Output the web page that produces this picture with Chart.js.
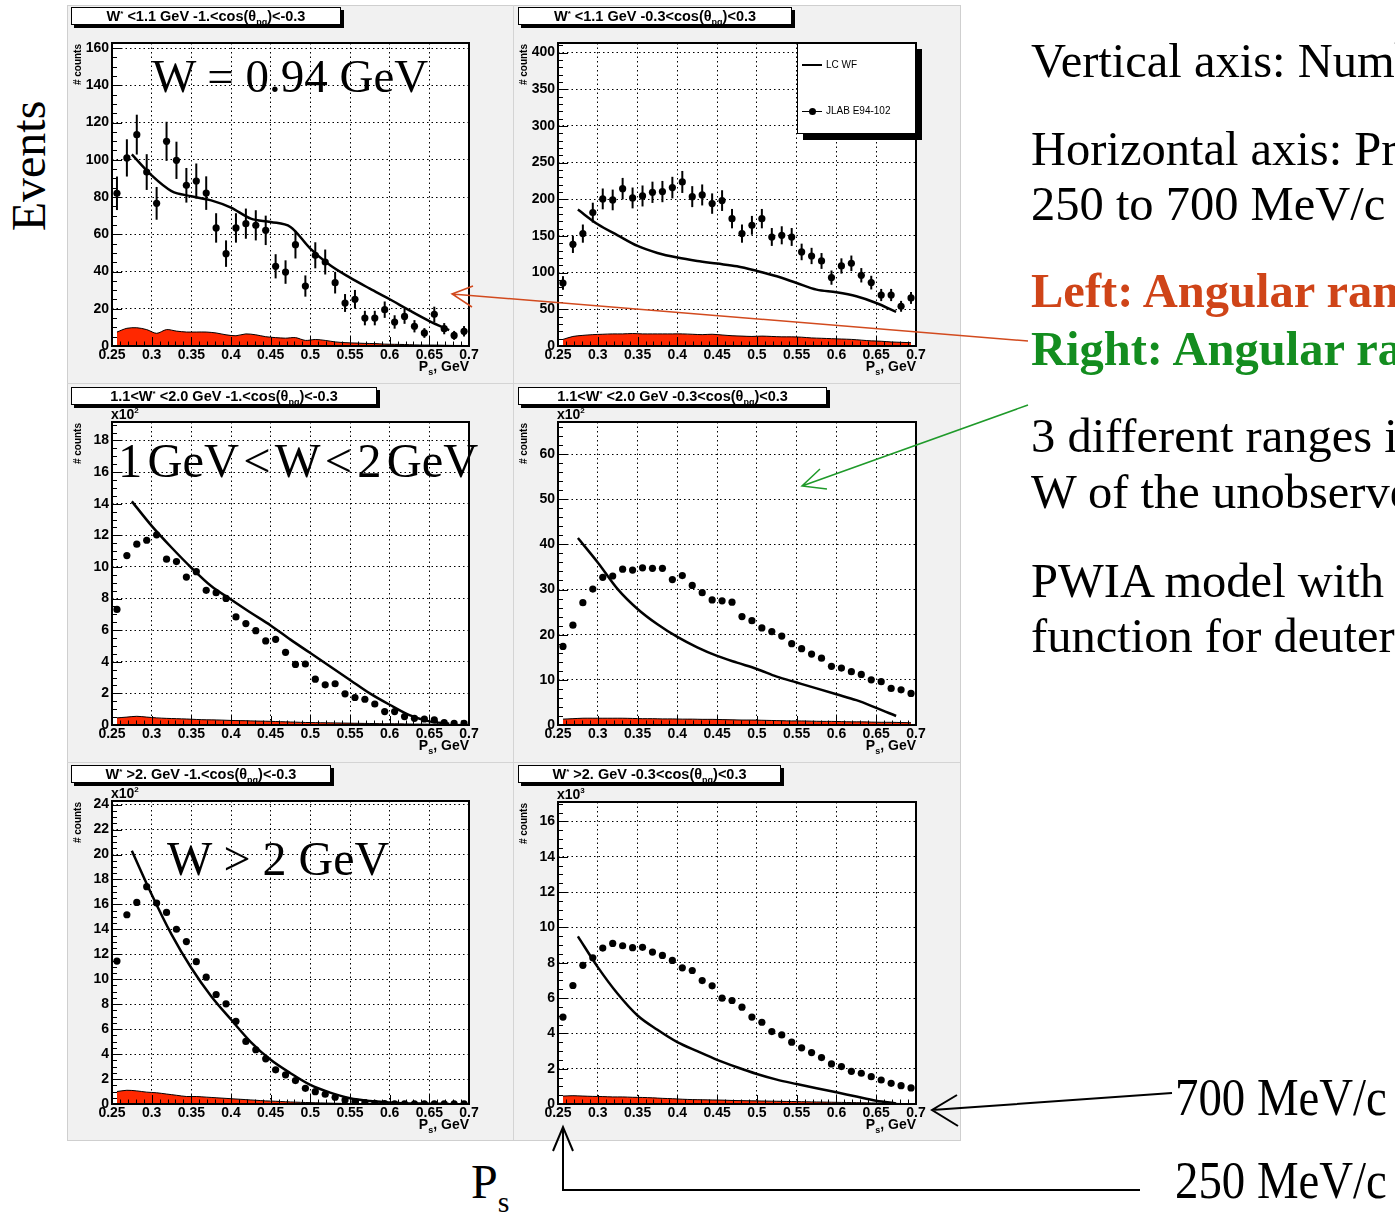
<!DOCTYPE html>
<html>
<head>
<meta charset="utf-8">
<script src="https://cdn.jsdelivr.net/npm/chart.js@4.4.1/dist/chart.umd.min.js"></script>
<style>
body { margin:0; width:1395px; height:1212px; overflow:hidden; background:#fff; position:relative; font-family:'Liberation Sans', Arial, sans-serif; }
.abs { position:absolute; }
#pad { left:67px; top:5px; width:892px; height:1134px; background:#f1f1f1; border:1px solid #cfcfcf; }
.sep { position:absolute; background:#d4d4d4; }
.ttl { position:absolute; box-sizing:border-box; height:18px; border:1px solid #000; background:#fff; box-shadow:3px 3px 0 #000;
       font:bold 14.5px 'Liberation Sans', Arial, sans-serif; text-align:center; line-height:16px; white-space:nowrap; }
.ttl sub { font-size:9px; vertical-align:-4px; line-height:0; }
.ttl sup { font-size:8px; vertical-align:5px; line-height:0; }
.serif { position:absolute; font-family:'Liberation Serif','Times New Roman',serif; white-space:nowrap; line-height:1; color:#000; }
.side { left:1031px; font-size:48.5px; }
#legend { left:797px; top:43px; width:119px; height:91px; box-sizing:border-box; background:#fff; border:1px solid #000; box-shadow:6px 6px 0 #000;
          font:10px 'Liberation Sans', Arial, sans-serif; }
</style>
</head>
<body>
<div id="pad" class="abs"></div>
<div class="sep" style="left:513px;top:5px;width:1px;height:1135px"></div>
<div class="sep" style="left:67px;top:383px;width:893px;height:1px"></div>
<div class="sep" style="left:67px;top:762px;width:893px;height:1px"></div>

<div id="charts"></div>

<div class="ttl" style="left:71px;top:7px;width:270px">W<sup>*</sup> &lt;1.1 GeV -1.&lt;cos(θ<sub>pq</sub>)&lt;-0.3</div>
<div class="ttl" style="left:518px;top:7px;width:274px">W<sup>*</sup> &lt;1.1 GeV -0.3&lt;cos(θ<sub>pq</sub>)&lt;0.3</div>
<div class="ttl" style="left:71px;top:387px;width:306px">1.1&lt;W<sup>*</sup> &lt;2.0 GeV -1.&lt;cos(θ<sub>pq</sub>)&lt;-0.3</div>
<div class="ttl" style="left:518px;top:387px;width:309px">1.1&lt;W<sup>*</sup> &lt;2.0 GeV -0.3&lt;cos(θ<sub>pq</sub>)&lt;0.3</div>
<div class="ttl" style="left:71px;top:765px;width:260px">W<sup>*</sup> &gt;2. GeV -1.&lt;cos(θ<sub>pq</sub>)&lt;-0.3</div>
<div class="ttl" style="left:518px;top:765px;width:263px">W<sup>*</sup> &gt;2. GeV -0.3&lt;cos(θ<sub>pq</sub>)&lt;0.3</div>

<div id="legend" class="abs">
  <div class="abs" style="left:4px;top:20px;width:20px;height:2px;background:#000"></div>
  <div class="abs" style="left:28px;top:15px">LC WF</div>
  <div class="abs" style="left:4px;top:67px;width:20px;height:1px;background:#000"></div>
  <div class="abs" style="left:11px;top:64px;width:7px;height:7px;border-radius:50%;background:#000"></div>
  <div class="abs" style="left:28px;top:61px">JLAB E94-102</div>
</div>

<div class="serif" style="left:152px;top:53px;font-size:47px">W = 0.94 GeV</div>
<div class="serif" style="left:118px;top:437px;font-size:48.5px;word-spacing:-7px">1 GeV &lt; W &lt; 2 GeV</div>
<div class="serif" style="left:167px;top:835px;font-size:48px">W &gt; 2 GeV</div>

<div class="serif" style="left:29px;top:166px;font-size:48px;transform:translate(-50%,-50%) rotate(-90deg)">Events</div>

<div class="serif side" style="top:37px">Vertical axis: Number of events</div>
<div class="serif side" style="top:125px">Horizontal axis: Proton momentum</div>
<div class="serif side" style="top:180px">250 to 700 MeV/c</div>
<div class="serif side" style="top:267px;font-weight:bold;color:#cf4418">Left: Angular range</div>
<div class="serif side" style="top:325px;font-weight:bold;color:#138d1f">Right: Angular range</div>
<div class="serif side" style="top:412px">3 different ranges in</div>
<div class="serif side" style="top:468px">W of the unobserved</div>
<div class="serif side" style="top:557px">PWIA model with</div>
<div class="serif side" style="top:612px">function for deuterium</div>

<div class="serif" style="left:471px;top:1158px;font-size:48px">P<span style="font-size:30px;vertical-align:-14px">s</span></div>
<div class="serif" style="left:1175px;top:1072px;font-size:52px;transform:scaleX(0.9);transform-origin:left top">700 MeV/c</div>
<div class="serif" style="left:1175px;top:1155px;font-size:52px;transform:scaleX(0.9);transform-origin:left top">250 MeV/c</div>

<svg class="abs" style="left:0;top:0" width="1395" height="1212">
  <g fill="none">
    <path d="M1028,341 L452,294 M473,286 L452,294 L472,307" stroke="#d24a1e" stroke-width="1.5"/>
    <path d="M1028,405 L802,486 M820,469 L802,486 L827,489" stroke="#1f9a2a" stroke-width="1.5"/>
    <path d="M1172,1093 L932,1110 M957,1095 L932,1110 L958,1126" stroke="#000" stroke-width="2"/>
    <path d="M1140,1190 L563,1190 L563,1127 M553,1151 L563,1127 L573,1151" stroke="#000" stroke-width="2"/>
  </g>
</svg>

<script>
// proton spectator momentum bins (GeV), bin centres
const psBins = [0.25625, 0.26875, 0.28125, 0.29375, 0.30625, 0.31875, 0.33125, 0.34375, 0.35625, 0.36875,
                0.38125, 0.39375, 0.40625, 0.41875, 0.43125, 0.44375, 0.45625, 0.46875, 0.48125, 0.49375,
                0.50625, 0.51875, 0.53125, 0.54375, 0.55625, 0.56875, 0.58125, 0.59375, 0.60625, 0.61875,
                0.63125, 0.64375, 0.65625, 0.66875, 0.68125, 0.69375];
// points where the LC WF model curve was read
const modelPs = [0.275, 0.3, 0.325, 0.35, 0.375, 0.4, 0.425, 0.45, 0.475, 0.5, 0.525, 0.55, 0.575, 0.6, 0.625, 0.65, 0.675];
const psTicks = [0.25, 0.3, 0.35, 0.4, 0.45, 0.5, 0.55, 0.6, 0.65, 0.7];

// W* < 1.1 GeV, -1 < cos < -0.3
const countsW1Back = [82, 101, 113.5, 93.4, 76.6, 109.9, 99.7, 86.3, 88.6, 82.1, 63.4, 49.6, 63.4, 65.7, 64.8, 62.1, 42.8, 39.7,
                      54.4, 32.2, 48.7, 45.1, 34, 23.1, 25.1, 15, 15, 19.5, 12.9, 15.9, 10.6, 7, 17, 9.3, 5.7, 7.9];
const errW1Back = [9, 10, 10.7, 9.6, 8.8, 10.5, 10, 9.3, 9.4, 9, 7.9, 7.1, 7.9, 8.1, 8.1, 7.9, 6.5, 6.3,
                   7.4, 5.7, 7, 6.7, 5.8, 4.8, 5, 3.9, 3.9, 4.4, 3.6, 4, 3.3, 2.6, 4.1, 3, 2.4, 2.8];
const modelW1Back = [102.9, 91.6, 83.2, 80.4, 78.2, 74.3, 68.4, 66.6, 63.9, 52.3, 43.3, 36.7, 30.8, 25.1, 19.1, 13.4, 8.5];
const bgW1Back = [7.5, 9.5, 9.8, 8.8, 6.8, 8.8, 8, 7.5, 7.5, 7.5, 7, 6, 5.5, 6.5, 6, 5, 4.5, 4.2,
                  4.5, 3, 3.5, 3, 2.2, 1.8, 1.6, 1.4, 1.3, 1, 0.9, 0.8, 0.6, 0.5, 0.5, 0.4, 0.3, 0.3];
const ticksW1Back = [0, 20, 40, 60, 80, 100, 120, 140, 160];

// W* < 1.1 GeV, -0.3 < cos < 0.3
const countsW1Perp = [85.9, 138.6, 153.2, 181.8, 200.5, 199.1, 214.5, 201.8, 204.5, 209.5, 210.5, 215.9, 223.6, 203.6, 205.9, 194.1, 198.2, 173.6,
                      153.2, 164.5, 173.6, 148.6, 150.9, 148.6, 128.2, 122.7, 115.9, 93.2, 109.1, 112.7, 96.4, 86.4, 69.5, 69.5, 54.1, 65.5];
const errW1Perp = [9.3, 11.8, 12.4, 13.5, 14.2, 14.1, 14.6, 14.2, 14.3, 14.5, 14.5, 14.7, 15, 14.3, 14.3, 13.9, 14.1, 13.2,
                   12.4, 12.8, 13.2, 12.2, 12.3, 12.2, 11.3, 11.1, 10.8, 9.7, 10.4, 10.6, 9.8, 9.3, 8.3, 8.3, 7.4, 8.1];
const modelW1Perp = [185.9, 165.9, 150.9, 136.4, 126.8, 120.5, 115.9, 112.3, 108.6, 102.3, 95, 85.9, 76.8, 73.2, 67.7, 58.6, 46.4];
const bgW1Perp = [9, 13, 14.5, 15.5, 16, 16.5, 16.5, 17, 16.5, 16.5, 16.5, 16.5, 16.5, 16, 15.5, 16, 15, 14,
                  13.5, 13, 13.5, 13, 12.5, 12.5, 12, 11, 10.5, 10, 9.5, 9, 8, 7, 6.5, 5.5, 5, 4.5];
const ticksW1Perp = [0, 50, 100, 150, 200, 250, 300, 350, 400];

// 1.1 < W* < 2.0 GeV (x10^2), -1 < cos < -0.3
const countsW2Back = [7.31, 10.72, 11.44, 11.69, 12.03, 10.49, 10.34, 9.36, 9.7, 8.52, 8.37, 8.01, 6.84, 6.42, 5.97, 5.32, 5.42, 4.6,
                      3.83, 3.86, 2.9, 2.54, 2.61, 1.97, 1.74, 1.63, 1.33, 0.85, 0.85, 0.53, 0.42, 0.38, 0.32, 0.15, 0.1, 0.1];
const modelW2Back = [14.15, 12.6, 11.23, 9.95, 8.79, 7.94, 7.1, 6.3, 5.4, 4.55, 3.7, 2.85, 2, 1.28, 0.62, 0.23, 0.08];
const bgW2Back = [0.45, 0.5, 0.55, 0.5, 0.45, 0.42, 0.4, 0.38, 0.35, 0.33, 0.32, 0.3, 0.28, 0.27, 0.25, 0.24, 0.22, 0.2,
                  0.18, 0.16, 0.15, 0.14, 0.13, 0.12, 0.11, 0.1, 0.09, 0.08, 0.08, 0.07, 0.06, 0.06, 0.05, 0.05, 0.04, 0.04];
const ticksW2Back = [0, 2, 4, 6, 8, 10, 12, 14, 16, 18];

// 1.1 < W* < 2.0 GeV (x10^2), -0.3 < cos < 0.3
const countsW2Perp = [17.4, 22.1, 27.1, 30.1, 32.7, 33, 34.5, 34.3, 34.8, 34.7, 34.7, 32.2, 33.1, 30.9, 29.3, 27.7, 27.5, 27.2,
                      24, 23.1, 21.5, 20.7, 19.7, 18, 16.9, 15.7, 14.8, 13, 12.6, 11.8, 11.2, 10, 9.6, 8.1, 7.8, 7];
const modelW2Perp = [41.4, 36, 30.1, 25.7, 22.3, 19.5, 17.2, 15.3, 13.8, 12.4, 10.7, 9.4, 8.1, 6.8, 5.5, 3.8, 2];
const bgW2Perp = [1.3, 1.4, 1.5, 1.5, 1.5, 1.5, 1.5, 1.45, 1.4, 1.4, 1.35, 1.35, 1.3, 1.3, 1.25, 1.25, 1.2, 1.15,
                  1.1, 1.1, 1.05, 1, 0.95, 0.9, 0.9, 0.85, 0.8, 0.8, 0.75, 0.7, 0.7, 0.65, 0.6, 0.6, 0.55, 0.5];
const ticksW2Perp = [0, 10, 20, 30, 40, 50, 60];

// W* > 2 GeV (x10^2), -1 < cos < -0.3
const countsW3Back = [11.46, 15.17, 16.16, 17.42, 16.11, 15.36, 14.01, 13.02, 11.41, 10.17, 8.78, 8.03, 6.63, 5.02, 4.35, 3.62, 2.74, 2.34,
                      1.88, 1.26, 0.99, 0.78, 0.54, 0.32, 0.19, 0.11, 0.05, 0.03, 0.02, 0.02, 0.02, 0.02, 0.02, 0.02, 0.02, 0.02];
const modelW3Back = [20.3, 16.8, 13.6, 10.9, 8.64, 6.77, 4.97, 3.54, 2.47, 1.53, 0.91, 0.46, 0.24, 0.13, 0.05, 0.03, 0.01];
const bgW3Back = [1, 1.1, 1.05, 0.95, 0.9, 0.8, 0.7, 0.6, 0.6, 0.55, 0.5, 0.45, 0.4, 0.35, 0.3, 0.25, 0.22, 0.18,
                  0.15, 0.12, 0.1, 0.08, 0.06, 0.05, 0.04, 0.03, 0.02, 0.02, 0.01, 0.01, 0.01, 0, 0, 0, 0, 0];
const ticksW3Back = [0, 2, 4, 6, 8, 10, 12, 14, 16, 18, 20, 22, 24];

// W* > 2 GeV (x10^3), -0.3 < cos < 0.3
const countsW3Perp = [4.92, 6.71, 7.85, 8.28, 8.83, 9.09, 8.96, 8.85, 8.87, 8.6, 8.41, 8.13, 7.71, 7.56, 6.99, 6.69, 5.99, 5.86,
                      5.48, 4.92, 4.63, 4.1, 3.91, 3.5, 3.18, 2.91, 2.63, 2.27, 2.12, 1.85, 1.74, 1.55, 1.36, 1.17, 1.04, 0.91];
const modelW3Perp = [9.49, 7.75, 6.24, 5.01, 4.2, 3.5, 2.99, 2.5, 2.08, 1.7, 1.38, 1.13, 0.89, 0.66, 0.42, 0.19, 0.03];
const bgW3Perp = [0.45, 0.47, 0.45, 0.43, 0.42, 0.4, 0.4, 0.38, 0.37, 0.35, 0.32, 0.3, 0.27, 0.25, 0.24, 0.23, 0.22, 0.2,
                  0.19, 0.18, 0.17, 0.16, 0.15, 0.14, 0.13, 0.12, 0.11, 0.1, 0.09, 0.08, 0.07, 0.06, 0.05, 0.04, 0.03, 0.02];
const ticksW3Perp = [0, 2, 4, 6, 8, 10, 12, 14, 16];

const panels = [
  {left: 67,  top: 5,   w: 446, h: 378, padTop: 38, xH: 37, ymax: 162.7, yTicks: ticksW1Back, yMinor: 5,   counts: countsW1Back, errors: errW1Back, model: modelW1Back, bg: bgW1Back, exp: null},
  {left: 513, top: 5,   w: 447, h: 378, padTop: 38, xH: 37, ymax: 413,   yTicks: ticksW1Perp, yMinor: 10,  counts: countsW1Perp, errors: errW1Perp, model: modelW1Perp, bg: bgW1Perp, exp: null},
  {left: 67,  top: 383, w: 446, h: 379, padTop: 39, xH: 37, ymax: 19.17, yTicks: ticksW2Back, yMinor: 0.5, counts: countsW2Back, errors: null, model: modelW2Back, bg: bgW2Back, exp: '2'},
  {left: 513, top: 383, w: 447, h: 379, padTop: 39, xH: 37, ymax: 67.1,  yTicks: ticksW2Perp, yMinor: 2,   counts: countsW2Perp, errors: null, model: modelW2Perp, bg: bgW2Perp, exp: '2'},
  {left: 67,  top: 762, w: 446, h: 378, padTop: 39, xH: 36, ymax: 24.29, yTicks: ticksW3Back, yMinor: 0.5, counts: countsW3Back, errors: null, model: modelW3Back, bg: bgW3Back, exp: '2'},
  {left: 513, top: 762, w: 447, h: 378, padTop: 40, xH: 36, ymax: 17.1,  yTicks: ticksW3Perp, yMinor: 0.5, counts: countsW3Perp, errors: null, model: modelW3Perp, bg: bgW3Perp, exp: '3'}
];

const BOLD = 'bold 14px "Liberation Sans", Arial, sans-serif';

// ROOT-like frame: white pad, error bars, inner ticks, axis titles
const rootFrame = {
  id: 'rootFrame',
  beforeDraw(chart) {
    const {ctx, chartArea: a} = chart;
    ctx.save();
    ctx.fillStyle = '#fff';
    ctx.fillRect(a.left, a.top, a.right - a.left, a.bottom - a.top);
    ctx.restore();
  },
  afterDatasetsDraw(chart) {
    const p = chart.options.plugins.rootFrame.panel;
    if (!p.errors) return;
    const {ctx} = chart;
    const ys = chart.scales.y;
    const meta = chart.getDatasetMeta(0);
    ctx.save();
    ctx.strokeStyle = '#000';
    ctx.lineWidth = 2;
    meta.data.forEach((el, i) => {
      const v = p.counts[i], e = p.errors[i];
      ctx.beginPath();
      ctx.moveTo(el.x, ys.getPixelForValue(v - e));
      ctx.lineTo(el.x, ys.getPixelForValue(v + e));
      ctx.stroke();
    });
    ctx.restore();
  },
  afterDraw(chart) {
    const p = chart.options.plugins.rootFrame.panel;
    const {ctx, chartArea: a} = chart;
    const xs = chart.scales.x, ys = chart.scales.y;
    ctx.save();
    ctx.strokeStyle = '#000';
    ctx.lineWidth = 1;
    // x ticks (inside, from the bottom)
    for (let k = 0; k <= 45; k++) {
      const v = 0.25 + k * 0.01;
      const px = Math.round(xs.getPixelForValue(v)) + 0.5;
      const len = (k % 5 === 0) ? 9 : 4.5;
      ctx.beginPath(); ctx.moveTo(px, a.bottom); ctx.lineTo(px, a.bottom - len); ctx.stroke();
    }
    // y ticks (inside, from the left)
    const step = p.yTicks[1] - p.yTicks[0];
    for (let v = 0; v <= p.ymax + 1e-9; v += p.yMinor) {
      const major = Math.abs(v / step - Math.round(v / step)) < 1e-6;
      const py = Math.round(ys.getPixelForValue(v)) + 0.5;
      ctx.beginPath(); ctx.moveTo(a.left, py); ctx.lineTo(a.left + (major ? 10 : 5), py); ctx.stroke();
    }
    // frame
    ctx.lineWidth = 2;
    ctx.strokeRect(a.left, a.top, a.right - a.left, a.bottom - a.top);
    // x axis title  P_s, GeV
    ctx.fillStyle = '#000';
    ctx.textBaseline = 'alphabetic';
    ctx.font = BOLD;
    const wTail = ctx.measureText(', GeV').width;
    const wP = ctx.measureText('P').width;
    ctx.font = 'bold 9px "Liberation Sans", Arial, sans-serif';
    const wS = ctx.measureText('s').width;
    let x0 = a.right - wTail - wS - wP;
    const base = a.bottom + 25;
    ctx.font = BOLD;
    ctx.fillText('P', x0, base);
    ctx.font = 'bold 9px "Liberation Sans", Arial, sans-serif';
    ctx.fillText('s', x0 + wP, base + 4);
    ctx.font = BOLD;
    ctx.fillText(', GeV', x0 + wP + wS, base);
    // y axis title
    ctx.save();
    ctx.translate(a.left - 31, a.top + 1);
    ctx.rotate(-Math.PI / 2);
    ctx.font = 'bold 10px "Liberation Sans", Arial, sans-serif';
    ctx.textAlign = 'right';
    ctx.fillText('# counts', 0, 0);
    ctx.restore();
    // exponent
    if (p.exp) {
      ctx.font = 'bold 14px "Liberation Sans", Arial, sans-serif';
      ctx.fillText('x10', a.left - 1, a.top - 3);
      const w = ctx.measureText('x10').width;
      ctx.font = 'bold 8px "Liberation Sans", Arial, sans-serif';
      ctx.fillText(p.exp, a.left - 1 + w, a.top - 9);
    }
    ctx.restore();
  }
};

const holder = document.getElementById('charts');
panels.forEach(p => {
  const cv = document.createElement('canvas');
  cv.width = p.w; cv.height = p.h;
  cv.style.cssText = `position:absolute;left:${p.left}px;top:${p.top}px;width:${p.w}px;height:${p.h}px`;
  holder.appendChild(cv);

  const points = p.counts.map((v, i) => ({x: psBins[i], y: v}));
  const curve = p.model.map((v, i) => ({x: modelPs[i], y: v}));
  const back = p.bg.map((v, i) => ({x: psBins[i], y: v}));

  new Chart(cv, {
    type: 'line',
    data: {
      datasets: [
        {label: 'JLAB E94-102', data: points, showLine: false, pointRadius: 3.6, pointBackgroundColor: '#000', pointBorderWidth: 0, order: 1},
        {label: 'LC WF', data: curve, borderColor: '#000', borderWidth: 2.5, pointRadius: 0, cubicInterpolationMode: 'monotone', fill: false, order: 2},
        {label: 'background', data: back, borderColor: '#000', borderWidth: 1, backgroundColor: '#ff2800', pointRadius: 0, tension: 0.3, fill: 'origin', order: 3}
      ]
    },
    options: {
      responsive: false,
      animation: false,
      devicePixelRatio: 1,
      layout: {padding: {left: 0, right: 44, top: p.padTop, bottom: 0}},
      plugins: {legend: {display: false}, tooltip: {enabled: false}, rootFrame: {panel: p}},
      scales: {
        x: {
          type: 'linear', min: 0.25, max: 0.7,
          afterBuildTicks: s => { s.ticks = psTicks.map(v => ({value: v})); },
          afterFit: s => { s.height = p.xH; },
          grid: {color: '#000', lineWidth: 1, drawTicks: false},
          border: {display: false, dash: [1.5, 3]},
          ticks: {color: '#000', font: {family: '"Liberation Sans", Arial, sans-serif', size: 14, weight: 'bold'},
                  padding: 1, maxRotation: 0, autoSkip: false, callback: v => String(+v.toFixed(2))}
        },
        y: {
          type: 'linear', min: 0, max: p.ymax,
          afterBuildTicks: s => { s.ticks = p.yTicks.map(v => ({value: v})); },
          afterFit: s => { s.width = 45; },
          grid: {color: '#000', lineWidth: 1, drawTicks: false},
          border: {display: false, dash: [1.5, 3]},
          ticks: {color: '#000', font: {family: '"Liberation Sans", Arial, sans-serif', size: 14, weight: 'bold'},
                  padding: 3, autoSkip: false, callback: v => String(v)}
        }
      }
    },
    plugins: [rootFrame]
  });
});
</script>
</body>
</html>
